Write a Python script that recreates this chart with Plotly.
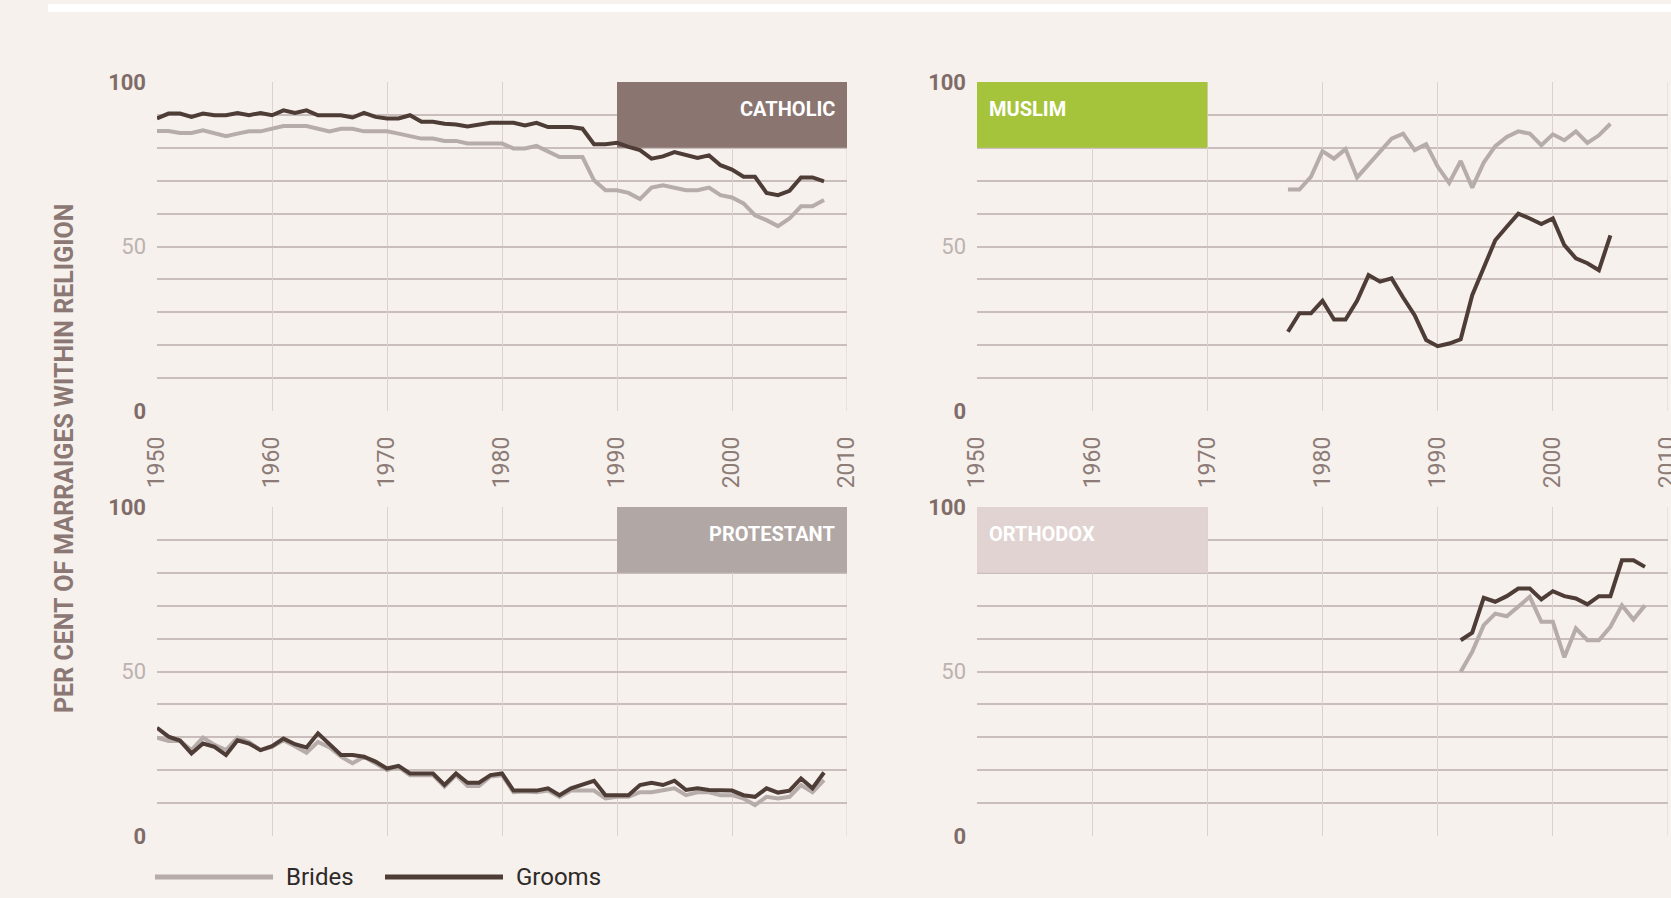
import plotly.graph_objects as go

W, H = 1671, 898

years_cath = list(range(1950, 2009))
cath_grooms = [88.9, 90.4, 90.4, 89.4, 90.4, 89.9, 89.9, 90.6, 89.9, 90.6, 89.9, 91.4, 90.6, 91.4, 89.9, 89.9,
               89.9, 89.2, 90.6, 89.4, 88.9, 88.9, 89.9, 87.9, 87.9, 87.3, 87.1, 86.5, 87.1, 87.6, 87.6, 87.6,
               86.8, 87.6, 86.3, 86.3, 86.3, 85.8, 81.1, 81.1, 81.5, 80.3, 79.3, 76.7, 77.4, 78.7, 77.7, 76.9,
               77.7, 74.7, 73.4, 71.2, 71.2, 66.3, 65.6, 66.9, 71.0, 71.0, 69.8]
cath_brides = [85.1, 85.1, 84.5, 84.5, 85.3, 84.3, 83.5, 84.3, 85.0, 85.0, 85.8, 86.6, 86.6, 86.6, 85.8, 85.0,
               85.8, 85.8, 85.0, 85.0, 85.0, 84.3, 83.5, 82.8, 82.8, 82.1, 82.1, 81.3, 81.3, 81.3, 81.3, 79.8,
               79.8, 80.6, 78.9, 77.2, 77.2, 77.2, 70.1, 67.1, 67.1, 66.3, 64.4, 67.9, 68.6, 67.9, 67.1, 67.1,
               67.9, 65.6, 64.9, 63.1, 59.5, 58.0, 56.2, 58.5, 62.2, 62.2, 64.1]

years_mus = list(range(1977, 2006))
mus_brides = [67.3, 67.3, 71.2, 79.0, 76.7, 79.6, 71.0, 75.0, 79.0, 82.8, 84.3, 79.3, 81.1, 74.3, 69.3,
              76.0, 67.9, 75.5, 80.5, 83.3, 85.0, 84.3, 80.8, 84.1, 82.3, 85.0, 81.5, 83.8, 87.3]
mus_grooms = [24.1, 29.7, 29.7, 33.5, 27.8, 27.8, 33.5, 41.3, 39.3, 40.3, 34.5, 29.1, 21.6, 19.7, 20.5,
              21.8, 35.2, 43.8, 51.9, 56.0, 60.0, 58.5, 56.8, 58.5, 50.4, 46.4, 44.9, 42.8, 53.4]

years_prot = list(range(1950, 2009))
prot_grooms = [32.9, 30.2, 29.0, 25.1, 28.1, 27.1, 24.6, 29.1, 28.1, 26.1, 27.3, 29.6, 27.9, 26.9, 31.2, 27.9,
               24.6, 24.6, 24.1, 22.6, 20.5, 21.3, 19.0, 19.0, 19.0, 15.5, 19.0, 16.2, 16.2, 18.5, 19.0, 13.8,
               13.8, 13.8, 14.5, 12.4, 14.5, 15.5, 16.8, 12.4, 12.4, 12.4, 15.5, 16.2, 15.5, 16.8, 14.0, 14.5,
               14.0, 13.8, 13.8, 12.4, 11.9, 14.5, 13.2, 13.8, 17.5, 14.5, 19.3]
prot_brides = [29.9, 28.9, 28.9, 26.1, 29.9, 27.7, 26.1, 29.9, 28.6, 26.1, 27.1, 29.1, 27.3, 25.3, 28.6, 26.9,
               24.1, 22.1, 24.1, 22.1, 20.0, 21.0, 18.5, 18.5, 18.5, 15.0, 18.5, 15.2, 15.2, 18.1, 18.5, 13.3,
               13.5, 13.3, 13.8, 11.9, 13.8, 13.8, 13.8, 11.4, 11.9, 11.9, 13.3, 13.3, 13.8, 14.5, 12.4, 13.3,
               13.3, 12.4, 12.4, 11.4, 9.4, 11.9, 11.4, 11.9, 15.5, 13.3, 17.0]

years_orth = list(range(1992, 2009))
orth_grooms = [59.5, 61.8, 72.4, 71.2, 72.9, 75.2, 75.2, 71.9, 74.4, 72.9, 72.2, 70.4, 72.9, 72.9, 83.8, 83.8, 81.8]
orth_brides = [49.9, 56.0, 64.1, 67.6, 66.8, 69.6, 72.7, 65.1, 65.1, 54.3, 63.1, 59.5, 59.5, 63.6, 70.1, 65.8, 70.1]

panels = [
    ("CATHOLIC", years_cath, cath_brides, cath_grooms),
    ("MUSLIM", years_mus, mus_brides, mus_grooms),
    ("PROTESTANT", years_prot, prot_brides, prot_grooms),
    ("ORTHODOX", years_orth, orth_brides, orth_grooms),
]
x_ticks = [1950, 1960, 1970, 1980, 1990, 2000, 2010]
y_ticks = [0, 50, 100]
series_names = ["Brides", "Grooms"]

BG = "#f6f1ed"
BRIDE_C = "#b6aca9"
GROOM_C = "#4e3c37"
BOX_COLORS = {"CATHOLIC": "#8a7571", "MUSLIM": "#a6c43b", "PROTESTANT": "#b1a7a4", "ORTHODOX": "#e1d3d1"}
BOX_SPAN = {"CATHOLIC": (1990, 2010), "MUSLIM": (1950, 1970), "PROTESTANT": (1990, 2010), "ORTHODOX": (1950, 1970)}

FONT = "Roboto, Liberation Sans, sans-serif"

def px2x(p):
    return p / W

def px2y(p):
    return 1 - p / H

# plot areas in pixels: (left, right, top, bottom)
areas = [(157, 847, 82, 411), (977, 1668, 82, 411), (157, 847, 507, 836), (977, 1668, 507, 836)]

fig = go.Figure()
layout = {}
shapes = []
annotations = []

for i, ((name, yrs, brides, grooms), (l, r, t, b)) in enumerate(zip(panels, areas)):
    n = i + 1
    xa = "x" if n == 1 else f"x{n}"
    ya = "y" if n == 1 else f"y{n}"
    xk = "xaxis" if n == 1 else f"xaxis{n}"
    yk = "yaxis" if n == 1 else f"yaxis{n}"
    top_row = n <= 2

    # right border line at 2010
    shapes.append(dict(type="line", xref=xa, yref=ya, x0=2010, x1=2010, y0=0, y1=100,
                       line=dict(color="#ddd1cf", width=1), layer="below"))
    # label box (above grid, below data lines)
    x0, x1 = BOX_SPAN[name]
    shapes.append(dict(type="rect", xref=xa, yref=ya, x0=x0, x1=x1, y0=80, y1=100,
                       fillcolor=BOX_COLORS[name], line=dict(width=0), layer="between"))
    if x0 == 1990:
        annotations.append(dict(xref=xa, yref=ya, x=2010, y=91.8, text=f"<b>{name}</b>", showarrow=False,
                                xanchor="right", xshift=-10, yanchor="middle",
                                font=dict(family=FONT, size=20, color="white")))
    else:
        annotations.append(dict(xref=xa, yref=ya, x=1950, y=91.8, text=f"<b>{name}</b>", showarrow=False,
                                xanchor="left", xshift=10, yanchor="middle",
                                font=dict(family=FONT, size=20, color="white")))

    for sname, vals, col in ((series_names[0], brides, BRIDE_C), (series_names[1], grooms, GROOM_C)):
        fig.add_trace(go.Scatter(x=yrs, y=vals, mode="lines", name=sname, xaxis=xa, yaxis=ya,
                                 line=dict(color=col, width=4), showlegend=False))

    layout[xk] = dict(domain=[px2x(l), px2x(r)], range=[1950, 2010], anchor=ya, automargin=False,
                      tickvals=x_ticks, ticktext=[str(v) for v in x_ticks], tickangle=-90,
                      showticklabels=top_row, ticklabeloverflow="allow",
                      showgrid=True, gridcolor="#ddd1cf", gridwidth=1,
                      zeroline=False, showline=False, ticks="", ticklabelstandoff=20,
                      tickfont=dict(family=FONT, size=23, color="#8c7b77"), fixedrange=True)
    layout[yk] = dict(domain=[px2y(b), px2y(t)], range=[0, 100], anchor=xa, automargin=False,
                      tickvals=y_ticks,
                      ticktext=["<b>0</b>", "<span style='color:#bcb2b0'>50</span>", "<b>100</b>"],
                      showgrid=True, gridcolor="#c9bebc", gridwidth=1.6,
                      minor=dict(dtick=10, showgrid=True, gridcolor="#c9bebc", gridwidth=1.6),
                      zeroline=False, showline=False, ticks="", ticklabelstandoff=10,
                      tickfont=dict(family=FONT, size=22, color="#7f6c68"), fixedrange=True)

# top white band
shapes.append(dict(type="rect", xref="paper", yref="paper", x0=px2x(48), x1=1, y0=px2y(12), y1=px2y(4),
                   fillcolor="white", line=dict(width=0), layer="below"))

# y axis title
annotations.append(dict(xref="paper", yref="paper", x=px2x(64), y=px2y(459), textangle=-90,
                        text="<b>PER CENT OF MARRAIGES WITHIN RELIGION</b>", showarrow=False,
                        xanchor="center", yanchor="middle",
                        font=dict(family=FONT, size=25, color="#8b7874")))

# legend (drawn manually for long line swatches)
leg_y = px2y(877)
for (lx0, lx1, tx), sname, col in (((155, 273, 284), series_names[0], BRIDE_C),
                                    ((385, 503, 514), series_names[1], GROOM_C)):
    shapes.append(dict(type="line", xref="paper", yref="paper", x0=px2x(lx0), x1=px2x(lx1),
                       y0=leg_y, y1=leg_y, line=dict(color=col, width=5)))
    annotations.append(dict(xref="paper", yref="paper", x=px2x(tx), y=leg_y, text=sname, showarrow=False,
                            xanchor="left", yanchor="middle",
                            font=dict(family=FONT, size=24, color="#2e2a28")))

fig.update_layout(width=W, height=H, margin=dict(l=0, r=0, t=0, b=0, autoexpand=False),
                  paper_bgcolor=BG, plot_bgcolor=BG, showlegend=False,
                  shapes=shapes, annotations=annotations, **layout)

fig.write_html("out.html", config={"displayModeBar": False},
               post_script="document.body.style.margin='0';document.body.style.overflow='hidden';")
